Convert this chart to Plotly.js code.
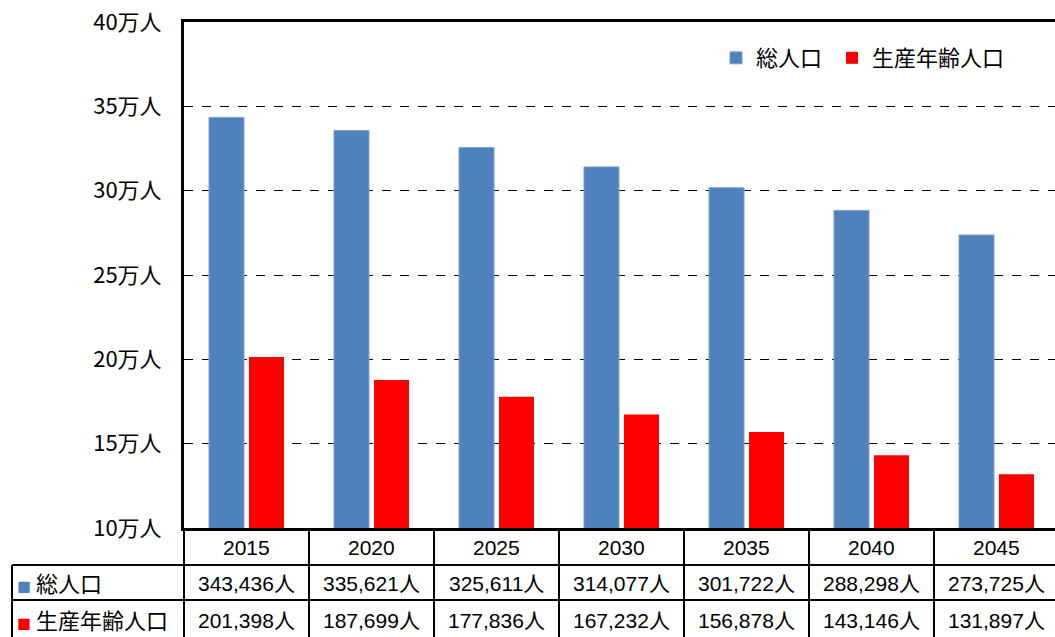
<!DOCTYPE html>
<html><head><meta charset="utf-8">
<script src="https://cdn.plot.ly/plotly-3.0.1.min.js"></script>
<style>html,body{margin:0;padding:0;overflow:hidden;background:#fff;}</style>
</head><body>
<div id="chart" style="width:1062px;height:637px;"></div>
<script>
const years = ['2015','2020','2025','2030','2035','2040','2045'];
const totalPop = [343436, 335621, 325611, 314077, 301722, 288298, 273725];
const workingPop = [201398, 187699, 177836, 167232, 156878, 143146, 131897];
const seriesNames = ['総人口', '生産年齢人口'];
const yTickVals = [100000, 150000, 200000, 250000, 300000, 350000, 400000];
const yTickText = ['10万人', '15万人', '20万人', '25万人', '30万人', '35万人', '40万人'];

const BLUE = '#4F81BD', RED = '#FF0000';
const FONT = 'Liberation Sans, Noto Sans CJK JP, sans-serif';
const JFONT = 'Noto Sans CJK JP, sans-serif';

const W = 1062, H = 637, L = 184, R = 3, T = 22, B = 109;
const pw = W - L - R, ph = H - T - B;
const px = x => (x - L) / pw;
const py = y => (H - B - y) / ph;

const traces = [
  {type:'bar', x: years, y: totalPop, name: seriesNames[0], legend:'legend', marker:{color: BLUE, line:{color:'#7FA0CC', width:1}}, hoverinfo:'y'},
  {type:'bar', x: years, y: workingPop, name: seriesNames[1], legend:'legend2', marker:{color: RED}, hoverinfo:'y'}
];

const shapes = [];
const annotations = [];
const n = years.length;
for (let i = 0; i <= n; i++) {
  shapes.push({type:'line', xref:'paper', yref:'paper', x0:i/n, x1:i/n, y0:0, y1:py(640), line:{color:'#000', width:2}});
}
shapes.push({type:'line', xref:'paper', yref:'paper', x0:px(12), x1:px(12), y0:py(565), y1:py(640), line:{color:'#000', width:2}});
[565, 600].forEach(y => shapes.push({type:'line', xref:'paper', yref:'paper', x0:px(12), x1:1, y0:py(y), y1:py(y), line:{color:'#000', width:2}}));

const fmt = v => v.toLocaleString('en-US') + '人';
const tf = {family:FONT, size:21, color:'#000'};
years.forEach((yr, i) => {
  annotations.push({xref:'x', yref:'paper', x: i, y: py(547), text: yr, showarrow:false, font:tf, yanchor:'middle'});
  annotations.push({xref:'x', yref:'paper', x: i, y: py(583), text: fmt(totalPop[i]), showarrow:false, font:tf, yanchor:'middle'});
  annotations.push({xref:'x', yref:'paper', x: i, y: py(620), text: fmt(workingPop[i]), showarrow:false, font:tf, yanchor:'middle'});
});
annotations.push({xref:'paper', yref:'paper', x: px(15), y: py(582), xanchor:'left', yanchor:'middle', showarrow:false,
  text:'<span style="color:'+BLUE+';font-size:14px">■</span> ' + seriesNames[0], font:{family:JFONT, size:22, color:'#000'}});
annotations.push({xref:'paper', yref:'paper', x: px(15), y: py(619), xanchor:'left', yanchor:'middle', showarrow:false,
  text:'<span style="color:'+RED+';font-size:14px">■</span> ' + seriesNames[1], font:{family:JFONT, size:22, color:'#000'}});

const legFont = {family:JFONT, size:22, color:'#000'};
const layout = {
  width: W, height: H,
  margin:{l:L, r:R, t:T, b:B, pad:0},
  paper_bgcolor:'#fff', plot_bgcolor:'#fff',
  barmode:'group', bargap:0.36, bargroupgap:0.125,
  showlegend:true,
  legend:{orientation:'h', x:px(716), y:py(58), xanchor:'left', yanchor:'middle',
    font:legFont, bgcolor:'rgba(0,0,0,0)'},
  legend2:{orientation:'h', x:px(832), y:py(58), xanchor:'left', yanchor:'middle',
    font:legFont, bgcolor:'rgba(0,0,0,0)'},
  xaxis:{type:'category', range:[-0.5, 6.5], showticklabels:false, ticks:'', showgrid:false, zeroline:false,
    showline:true, mirror:true, linecolor:'#000', linewidth:3, fixedrange:true},
  yaxis:{range:[100000, 400000], tickmode:'array', tickvals:yTickVals, ticktext:yTickText,
    showgrid:true, gridcolor:'#000', gridwidth:1, griddash:'dash', zeroline:false,
    showline:true, mirror:true, linecolor:'#000', linewidth:3, ticks:'', ticklabelstandoff:15,
    tickfont:{family:JFONT, size:22, color:'#000'}, fixedrange:true},
  shapes: shapes,
  annotations: annotations
};

Plotly.newPlot('chart', traces, layout, {displayModeBar:false, staticPlot:true});
</script>
</body></html>
